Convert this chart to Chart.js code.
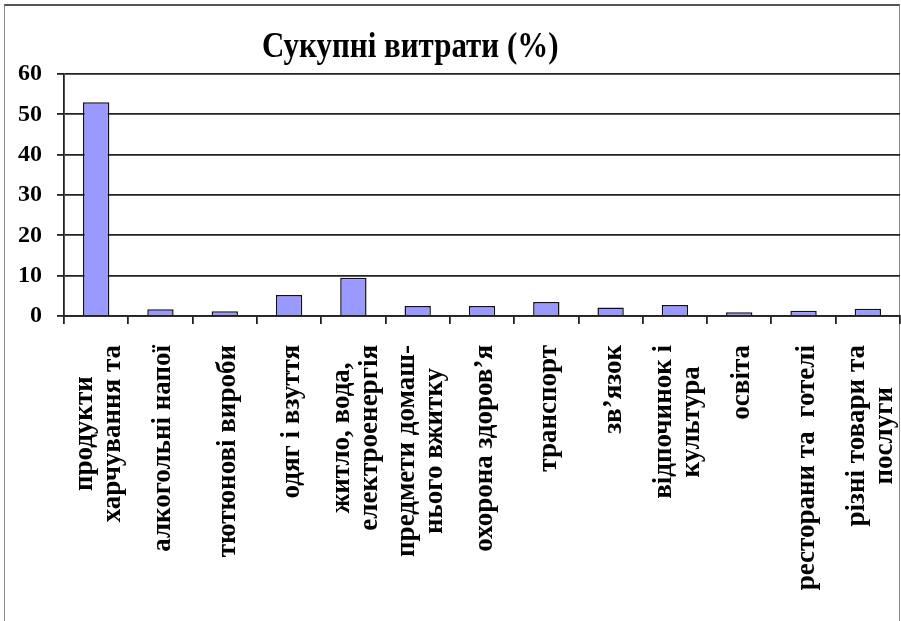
<!DOCTYPE html>
<html>
<head>
<meta charset="utf-8">
<script src="https://cdn.jsdelivr.net/npm/chart.js@4/dist/chart.umd.min.js"></script>
<style>
  body { margin: 0; background: #fff; }
  #wrap { position: relative; width: 901px; height: 621px; overflow: hidden; }
  #frame {
    position: absolute; left: 4px; top: 4px; width: 894px; height: 660px;
    border: 1px solid #888; border-top: 2px solid #555;
  }
  #title {
    position: absolute; left: 262px; top: 26px; white-space: nowrap;
    font: bold 35px "Liberation Serif", "Times New Roman", serif;
    transform-origin: left top; transform: scaleX(0.885);
  }
  canvas { position: absolute; left: 0; top: 0; }
</style>
</head>
<body>
<div id="wrap">
  <div id="frame"></div>
  <canvas id="chart" width="901" height="621"></canvas>
  <div id="title">Сукупні витрати (%)</div>
</div>
<script>
// categories (each entry = lines of the rotated label)
var categories = [
  ["продукти", "харчування та"],
  ["алкогольні напої"],
  ["тютюнові вироби"],
  ["одяг і взуття"],
  ["житло, вода,", "електроенергія"],
  ["предмети домаш-", "нього вжитку"],
  ["охорона здоров’я"],
  ["транспорт"],
  ["зв’язок"],
  ["відпочинок і", "культура"],
  ["освіта"],
  ["ресторани та  готелі"],
  ["різні товари та", "послуги"]
]
var values = [53.0, 1.7, 1.2, 5.2, 9.5, 2.5, 2.5, 3.5, 2.1, 2.7, 0.9, 1.3, 1.8]
var yMin = 0, yMax = 60, yStep = 10

var labelFont = 'bold 27px "Liberation Serif", "Times New Roman", serif'

// draws the vertical category labels under the axis, lines centred on each other
var verticalLabels = {
  id: 'verticalLabels',
  afterDraw: function (chart) {
    var ctx = chart.ctx
    var xs = chart.scales.x
    var top = chart.chartArea.bottom + 29
    var lineH = 28
    ctx.save()
    ctx.font = labelFont
    ctx.fillStyle = '#000'
    ctx.textAlign = 'center'
    ctx.textBaseline = 'middle'
    categories.forEach(function (lines, i) {
      var x = xs.getPixelForTick(i) + 3
      var w = 0
      lines.forEach(function (l) { w = Math.max(w, ctx.measureText(l).width) })
      ctx.save()
      ctx.translate(x, top)
      ctx.rotate(-Math.PI / 2)
      lines.forEach(function (l, k) {
        ctx.fillText(l, -w / 2, (k - (lines.length - 1) / 2) * lineH)
      })
      ctx.restore()
    })
    ctx.restore()
  }
}

var ctx = document.getElementById('chart').getContext('2d')
var chart = new Chart(ctx, {
  type: 'bar',
  data: {
    labels: categories,
    datasets: [{
      data: values,
      backgroundColor: '#9999ff',
      borderColor: '#111',
      borderWidth: 1.5,
      barPercentage: 0.41,
      categoryPercentage: 1
    }]
  },
  options: {
    responsive: false,
    animation: false,
    layout: { padding: { top: 74, right: 1, left: 0, bottom: 0 } },
    plugins: {
      legend: { display: false },
      tooltip: { enabled: false },
      title: { display: false }
    },
    scales: {
      x: {
        afterFit: function (scale) { scale.height = 305 },
        ticks: { display: false },
        grid: { drawOnChartArea: false, tickLength: 8, color: '#222', lineWidth: 1.8, offset: true },
        border: { color: '#222', width: 1.8 }
      },
      y: {
        min: yMin,
        max: yMax,
        afterFit: function (scale) { scale.width = 64 },
        ticks: {
          stepSize: yStep,
          color: '#000',
          padding: 15,
          font: { family: '"Liberation Serif", "Times New Roman", serif', size: 24, weight: 'bold' }
        },
        grid: { color: '#222', lineWidth: 1.8, tickLength: 7 },
        border: { color: '#222', width: 1.8 }
      }
    }
  },
  plugins: [verticalLabels]
})
</script>
</body>
</html>
